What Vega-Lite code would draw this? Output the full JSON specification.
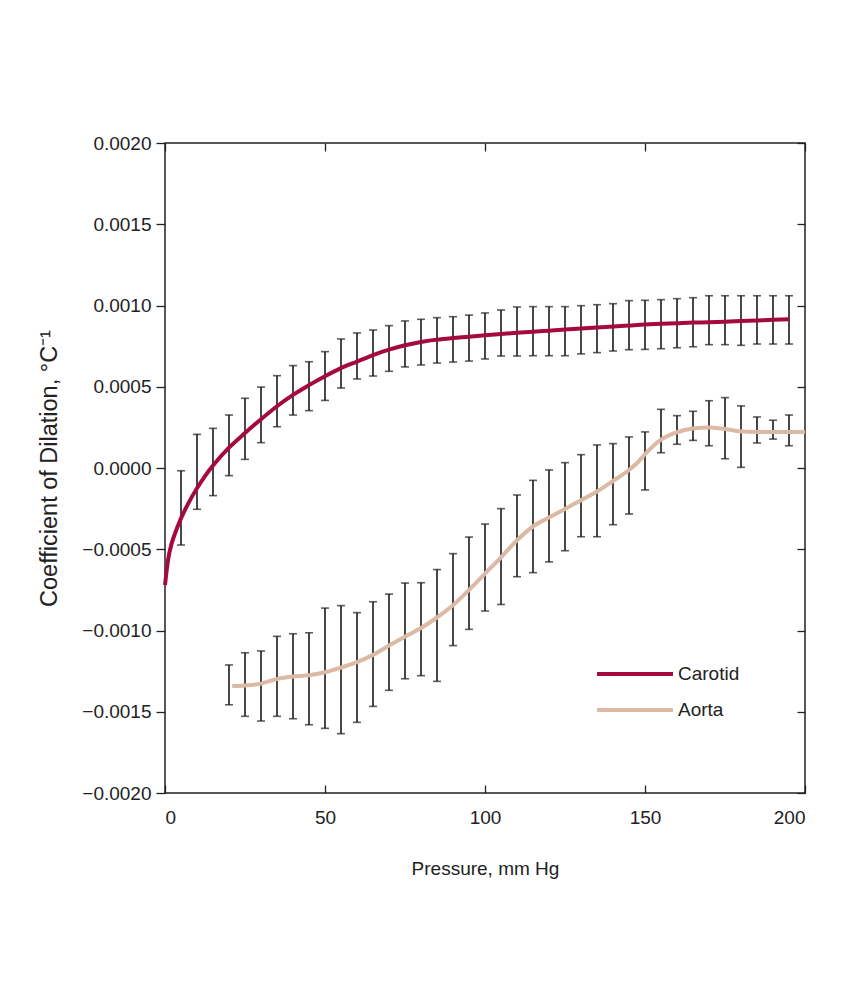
{
  "$schema": "https://vega.github.io/schema/vega-lite/v6.json",
  "width": 640,
  "height": 650,
  "autosize": {"type": "none"},
  "padding": {"left": 165, "top": 143, "right": 45, "bottom": 208},
  "background": "white",
  "config": {
    "font": "Liberation Sans, Arial, sans-serif",
    "view": {"stroke": "#222", "strokeWidth": 1.5},
    "axis": {
      "domain": false,
      "grid": false,
      "labelFontSize": 19,
      "labelColor": "#222",
      "tickColor": "#222",
      "tickWidth": 1.3,
      "titleFontWeight": "normal",
      "titleFontSize": 19,
      "titleColor": "#222"
    },
    "legend": {"labelFontSize": 19, "labelColor": "#222"}
  },
  "datasets": {
    "lines": [
      {"series": "Carotid", "p": 0, "v": -0.00072},
      {"series": "Carotid", "p": 1, "v": -0.00056},
      {"series": "Carotid", "p": 2, "v": -0.00047},
      {"series": "Carotid", "p": 3, "v": -0.00041},
      {"series": "Carotid", "p": 5, "v": -0.00031},
      {"series": "Carotid", "p": 7.5, "v": -0.00021},
      {"series": "Carotid", "p": 10, "v": -0.000125},
      {"series": "Carotid", "p": 12.5, "v": -0.00005},
      {"series": "Carotid", "p": 15, "v": 0.000015},
      {"series": "Carotid", "p": 20, "v": 0.000125},
      {"series": "Carotid", "p": 25, "v": 0.000215},
      {"series": "Carotid", "p": 30, "v": 0.0003},
      {"series": "Carotid", "p": 35, "v": 0.00038},
      {"series": "Carotid", "p": 40, "v": 0.00045},
      {"series": "Carotid", "p": 45, "v": 0.00051},
      {"series": "Carotid", "p": 50, "v": 0.000565},
      {"series": "Carotid", "p": 55, "v": 0.000615},
      {"series": "Carotid", "p": 60, "v": 0.000655},
      {"series": "Carotid", "p": 65, "v": 0.000695},
      {"series": "Carotid", "p": 70, "v": 0.000728},
      {"series": "Carotid", "p": 75, "v": 0.000755},
      {"series": "Carotid", "p": 80, "v": 0.000775},
      {"series": "Carotid", "p": 85, "v": 0.00079},
      {"series": "Carotid", "p": 90, "v": 0.0008},
      {"series": "Carotid", "p": 95, "v": 0.000808},
      {"series": "Carotid", "p": 100, "v": 0.000817},
      {"series": "Carotid", "p": 105, "v": 0.000825},
      {"series": "Carotid", "p": 110, "v": 0.000832},
      {"series": "Carotid", "p": 115, "v": 0.000838},
      {"series": "Carotid", "p": 120, "v": 0.000845},
      {"series": "Carotid", "p": 125, "v": 0.000852},
      {"series": "Carotid", "p": 130, "v": 0.000858},
      {"series": "Carotid", "p": 135, "v": 0.000865},
      {"series": "Carotid", "p": 140, "v": 0.000871},
      {"series": "Carotid", "p": 145, "v": 0.000877},
      {"series": "Carotid", "p": 150, "v": 0.000883},
      {"series": "Carotid", "p": 155, "v": 0.000887},
      {"series": "Carotid", "p": 160, "v": 0.000891},
      {"series": "Carotid", "p": 165, "v": 0.000895},
      {"series": "Carotid", "p": 170, "v": 0.000897},
      {"series": "Carotid", "p": 175, "v": 0.0009},
      {"series": "Carotid", "p": 180, "v": 0.000904},
      {"series": "Carotid", "p": 185, "v": 0.000908},
      {"series": "Carotid", "p": 190, "v": 0.000912},
      {"series": "Carotid", "p": 195, "v": 0.000915},
      {"series": "Aorta", "p": 21, "v": -0.001342},
      {"series": "Aorta", "p": 25, "v": -0.001338},
      {"series": "Aorta", "p": 30, "v": -0.001327},
      {"series": "Aorta", "p": 35, "v": -0.001298},
      {"series": "Aorta", "p": 40, "v": -0.001283},
      {"series": "Aorta", "p": 45, "v": -0.001276},
      {"series": "Aorta", "p": 50, "v": -0.001257},
      {"series": "Aorta", "p": 55, "v": -0.001228},
      {"series": "Aorta", "p": 60, "v": -0.001195},
      {"series": "Aorta", "p": 65, "v": -0.00115},
      {"series": "Aorta", "p": 70, "v": -0.001093},
      {"series": "Aorta", "p": 75, "v": -0.001038},
      {"series": "Aorta", "p": 80, "v": -0.000985},
      {"series": "Aorta", "p": 85, "v": -0.00092},
      {"series": "Aorta", "p": 90, "v": -0.000845},
      {"series": "Aorta", "p": 95, "v": -0.00075},
      {"series": "Aorta", "p": 100, "v": -0.00065},
      {"series": "Aorta", "p": 105, "v": -0.00055},
      {"series": "Aorta", "p": 110, "v": -0.000445},
      {"series": "Aorta", "p": 115, "v": -0.00036},
      {"series": "Aorta", "p": 120, "v": -0.000305},
      {"series": "Aorta", "p": 125, "v": -0.000252},
      {"series": "Aorta", "p": 130, "v": -0.000198},
      {"series": "Aorta", "p": 135, "v": -0.000145},
      {"series": "Aorta", "p": 140, "v": -0.00008},
      {"series": "Aorta", "p": 145, "v": -0.000012},
      {"series": "Aorta", "p": 148, "v": 0.00004},
      {"series": "Aorta", "p": 150, "v": 0.000085},
      {"series": "Aorta", "p": 155, "v": 0.000175},
      {"series": "Aorta", "p": 160, "v": 0.00022},
      {"series": "Aorta", "p": 165, "v": 0.000243},
      {"series": "Aorta", "p": 170, "v": 0.00025},
      {"series": "Aorta", "p": 175, "v": 0.00024},
      {"series": "Aorta", "p": 180, "v": 0.000225},
      {"series": "Aorta", "p": 185, "v": 0.000222},
      {"series": "Aorta", "p": 190, "v": 0.000222},
      {"series": "Aorta", "p": 195, "v": 0.000222},
      {"series": "Aorta", "p": 200, "v": 0.000222}
    ],
    "bars": [
      {"series": "Carotid", "p": 5, "lo": -0.000474, "hi": -0.000017},
      {"series": "Carotid", "p": 10, "lo": -0.000254, "hi": 0.000207},
      {"series": "Carotid", "p": 15, "lo": -0.00017, "hi": 0.000244},
      {"series": "Carotid", "p": 20, "lo": -0.000047, "hi": 0.000326},
      {"series": "Carotid", "p": 25, "lo": 0.000053, "hi": 0.000429},
      {"series": "Carotid", "p": 30, "lo": 0.000156, "hi": 0.000498},
      {"series": "Carotid", "p": 35, "lo": 0.000254, "hi": 0.000568},
      {"series": "Carotid", "p": 40, "lo": 0.000326, "hi": 0.00063},
      {"series": "Carotid", "p": 45, "lo": 0.000353, "hi": 0.000654},
      {"series": "Carotid", "p": 50, "lo": 0.000416, "hi": 0.000716},
      {"series": "Carotid", "p": 55, "lo": 0.000492, "hi": 0.000794},
      {"series": "Carotid", "p": 60, "lo": 0.000548, "hi": 0.000831},
      {"series": "Carotid", "p": 65, "lo": 0.000566, "hi": 0.000849},
      {"series": "Carotid", "p": 70, "lo": 0.000595, "hi": 0.000876},
      {"series": "Carotid", "p": 75, "lo": 0.000622, "hi": 0.000905},
      {"series": "Carotid", "p": 80, "lo": 0.000634, "hi": 0.000915},
      {"series": "Carotid", "p": 85, "lo": 0.000646, "hi": 0.000925},
      {"series": "Carotid", "p": 90, "lo": 0.000652, "hi": 0.000931},
      {"series": "Carotid", "p": 95, "lo": 0.000658, "hi": 0.000941},
      {"series": "Carotid", "p": 100, "lo": 0.000671, "hi": 0.000954},
      {"series": "Carotid", "p": 105, "lo": 0.000689, "hi": 0.000972},
      {"series": "Carotid", "p": 110, "lo": 0.000689, "hi": 0.000991},
      {"series": "Carotid", "p": 115, "lo": 0.000691, "hi": 0.000993},
      {"series": "Carotid", "p": 120, "lo": 0.000691, "hi": 0.000993},
      {"series": "Carotid", "p": 125, "lo": 0.000691, "hi": 0.000993},
      {"series": "Carotid", "p": 130, "lo": 0.000702, "hi": 0.000999},
      {"series": "Carotid", "p": 135, "lo": 0.00071, "hi": 0.001005},
      {"series": "Carotid", "p": 140, "lo": 0.00072, "hi": 0.001011},
      {"series": "Carotid", "p": 145, "lo": 0.000728, "hi": 0.00103},
      {"series": "Carotid", "p": 150, "lo": 0.00073, "hi": 0.001032},
      {"series": "Carotid", "p": 155, "lo": 0.000734, "hi": 0.001036},
      {"series": "Carotid", "p": 160, "lo": 0.00074, "hi": 0.001042},
      {"series": "Carotid", "p": 165, "lo": 0.000746, "hi": 0.001048},
      {"series": "Carotid", "p": 170, "lo": 0.000759, "hi": 0.00106},
      {"series": "Carotid", "p": 175, "lo": 0.000759, "hi": 0.00106},
      {"series": "Carotid", "p": 180, "lo": 0.000755, "hi": 0.00106},
      {"series": "Carotid", "p": 185, "lo": 0.000763, "hi": 0.00106},
      {"series": "Carotid", "p": 190, "lo": 0.000763, "hi": 0.00106},
      {"series": "Carotid", "p": 195, "lo": 0.000763, "hi": 0.00106},
      {"series": "Aorta", "p": 20, "lo": -0.001457, "hi": -0.001212},
      {"series": "Aorta", "p": 25, "lo": -0.001528, "hi": -0.001137},
      {"series": "Aorta", "p": 30, "lo": -0.001557, "hi": -0.001126},
      {"series": "Aorta", "p": 35, "lo": -0.001528, "hi": -0.001036},
      {"series": "Aorta", "p": 40, "lo": -0.001543, "hi": -0.00102},
      {"series": "Aorta", "p": 45, "lo": -0.00158, "hi": -0.001014},
      {"series": "Aorta", "p": 50, "lo": -0.001602, "hi": -0.000862},
      {"series": "Aorta", "p": 55, "lo": -0.001635, "hi": -0.000847},
      {"series": "Aorta", "p": 60, "lo": -0.001565, "hi": -0.00089},
      {"series": "Aorta", "p": 65, "lo": -0.001467, "hi": -0.000823},
      {"series": "Aorta", "p": 70, "lo": -0.001368, "hi": -0.000776},
      {"series": "Aorta", "p": 75, "lo": -0.001297, "hi": -0.000708},
      {"series": "Aorta", "p": 80, "lo": -0.001278, "hi": -0.000706},
      {"series": "Aorta", "p": 85, "lo": -0.001313, "hi": -0.000625},
      {"series": "Aorta", "p": 90, "lo": -0.001093, "hi": -0.000527},
      {"series": "Aorta", "p": 95, "lo": -0.000993, "hi": -0.000425},
      {"series": "Aorta", "p": 100, "lo": -0.00088, "hi": -0.000345},
      {"series": "Aorta", "p": 105, "lo": -0.00084, "hi": -0.00025},
      {"series": "Aorta", "p": 110, "lo": -0.000669, "hi": -0.000166},
      {"series": "Aorta", "p": 115, "lo": -0.000644, "hi": -0.000076},
      {"series": "Aorta", "p": 120, "lo": -0.000578, "hi": -0.000012},
      {"series": "Aorta", "p": 125, "lo": -0.000509, "hi": 0.000033},
      {"series": "Aorta", "p": 130, "lo": -0.000423, "hi": 0.000082},
      {"series": "Aorta", "p": 135, "lo": -0.000423, "hi": 0.000142},
      {"series": "Aorta", "p": 140, "lo": -0.000349, "hi": 0.00015},
      {"series": "Aorta", "p": 145, "lo": -0.000283, "hi": 0.000191},
      {"series": "Aorta", "p": 150, "lo": -0.000135, "hi": 0.000222},
      {"series": "Aorta", "p": 155, "lo": 0.000094, "hi": 0.000361},
      {"series": "Aorta", "p": 160, "lo": 0.000146, "hi": 0.000322},
      {"series": "Aorta", "p": 165, "lo": 0.00017, "hi": 0.000349},
      {"series": "Aorta", "p": 170, "lo": 0.000137, "hi": 0.000414},
      {"series": "Aorta", "p": 175, "lo": 0.000057, "hi": 0.000433},
      {"series": "Aorta", "p": 180, "lo": 0.000004, "hi": 0.000382},
      {"series": "Aorta", "p": 185, "lo": 0.000154, "hi": 0.000314},
      {"series": "Aorta", "p": 190, "lo": 0.000178, "hi": 0.000294},
      {"series": "Aorta", "p": 195, "lo": 0.000137, "hi": 0.000326}
    ]
  },
  "resolve": {"axis": {"x": "independent", "y": "independent"}},
  "layer": [
    {
      "data": {"name": "bars"},
      "mark": {
        "type": "errorbar",
        "ticks": {"size": 8, "thickness": 1.6, "color": "#1a1a1a"},
        "rule": {"strokeWidth": 1.6, "color": "#1a1a1a"}
      },
      "encoding": {
        "x": {
          "field": "p",
          "type": "quantitative",
          "scale": {"domain": [0, 200], "nice": false, "zero": false},
          "axis": {
            "orient": "bottom",
            "values": [0, 50, 100, 150, 200],
            "tickSize": -8,
            "labelPadding": 23,
            "title": "Pressure, mm Hg",
            "titlePadding": 32
          }
        },
        "y": {
          "field": "lo",
          "type": "quantitative",
          "scale": {"domain": [-0.002, 0.002], "nice": false, "zero": false},
          "axis": {
            "orient": "left",
            "values": [-0.002, -0.0015, -0.001, -0.0005, 0, 0.0005, 0.001, 0.0015, 0.002],
            "format": ".4f",
            "tickSize": 9,
            "labelPadding": 5,
            "title": "Coefficient of Dilation,  °C⁻¹",
            "titleFontSize": 23.5,
            "titlePadding": 20
          }
        },
        "y2": {"field": "hi"}
      }
    },
    {
      "data": {"name": "lines"},
      "mark": {"type": "line", "strokeWidth": 4, "interpolate": "monotone"},
      "encoding": {
        "x": {
          "field": "p",
          "type": "quantitative",
          "scale": {"domain": [0, 200], "nice": false, "zero": false},
          "axis": {
            "orient": "top",
            "values": [0, 50, 100, 150, 200],
            "tickSize": -8,
            "labels": false,
            "title": null
          }
        },
        "y": {
          "field": "v",
          "type": "quantitative",
          "scale": {"domain": [-0.002, 0.002], "nice": false, "zero": false},
          "axis": {
            "orient": "right",
            "values": [-0.002, -0.0015, -0.001, -0.0005, 0, 0.0005, 0.001, 0.0015, 0.002],
            "tickSize": -8,
            "labels": false,
            "title": null
          }
        },
        "color": {
          "field": "series",
          "type": "nominal",
          "scale": {"domain": ["Carotid", "Aorta"], "range": ["#a50a3c", "#dbb9a4"]},
          "legend": {
            "orient": "none",
            "legendX": 430,
            "legendY": 510,
            "title": null,
            "symbolType": "M-2,0H2",
            "symbolSize": 1444,
            "symbolStrokeWidth": 4,
            "symbolOffset": 19,
            "rowPadding": 5,
            "labelOffset": 22
          }
        },
        "detail": {"field": "series"}
      }
    },
    {
      "mark": {"type": "rule", "strokeDash": [20, 12], "color": "#1a1a1a", "strokeWidth": 1.3},
      "encoding": {"y": {"datum": 0, "type": "quantitative", "axis": null}}
    }
  ]
}
